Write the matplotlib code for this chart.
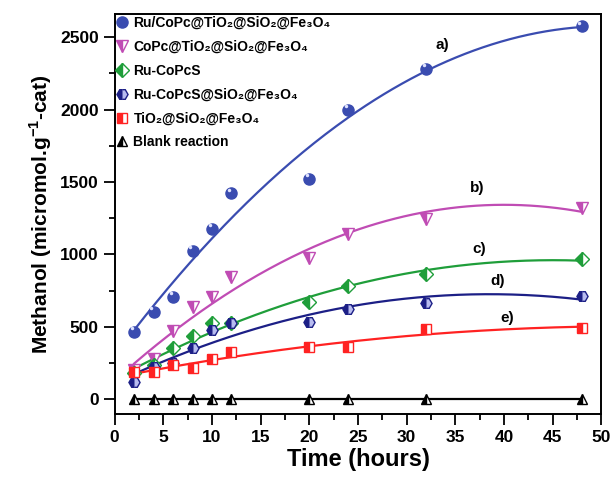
import numpy as np
import matplotlib
matplotlib.use("Agg")
import matplotlib.pyplot as plt
from matplotlib.ticker import MultipleLocator

plt.rcParams['font.family'] = ['Liberation Sans', 'DejaVu Sans']

time = [2, 4, 6, 8, 10, 12, 20, 24, 32, 48]
ru_copc_tio2 = [467, 605, 709, 1026, 1176, 1422, 1521, 1998, 2280, 2575]
copc_tio2 = [202, 276, 472, 640, 709, 842, 974, 1142, 1243, 1320]
ru_copcs = [184, 237, 352, 439, 529, 529, 674, 782, 865, 970]
ru_copcs_sio2 = [122, 221, 249, 352, 479, 529, 536, 621, 663, 712]
tio2_sio2 = [191, 186, 237, 214, 276, 329, 359, 359, 483, 495]
blank = [0, 0, 0, 0, 0, 0, 0, 0, 0, 0]

labels = ["Ru/CoPc@TiO₂@SiO₂@Fe₃O₄", "CoPc@TiO₂@SiO₂@Fe₃O₄", "Ru-CoPcS",
          "Ru-CoPcS@SiO₂@Fe₃O₄", "TiO₂@SiO₂@Fe₃O₄", "Blank reaction"]
curve_labels = ["a)", "b)", "c)", "d)", "e)"]
curve_label_pos = [(33.7, 2447), (37.2, 1457), (37.4, 1038), (39.3, 817), (40.3, 563)]

series = [ru_copc_tio2, copc_tio2, ru_copcs, ru_copcs_sio2, tio2_sio2, blank]
colors = ["#3a4cb0", "#c04cb4", "#1f9e3a", "#1c1f86", "#ff2222", "#000000"]
alt_colors = ["#3a4cb0", "#ffffff", "#ffffff", "#b8bcf0", "#ffffff", "#ffffff"]
markers = ["o", "v", "D", "H", "s", "^"]
fills = ["full", "left", "left", "left", "left", "left"]
msizes = [8, 8, 7, 8, 7, 7]

fig = plt.figure(figsize=(6.13, 4.79), dpi=100)
ax = fig.add_axes([0.187, 0.136, 0.794, 0.835])

t = np.array(time, dtype=float)
tt = np.linspace(2, 48, 200)
for i, ys in enumerate(series):
    ys = np.array(ys, dtype=float)
    if i < 5:
        p = np.polyfit(t, ys, 2)
        ax.plot(tt, np.polyval(p, tt), color=colors[i], lw=1.6, zorder=2)
    else:
        ax.plot(t, ys, color=colors[i], lw=1.6, zorder=2)
    ax.plot(t, ys, linestyle='none', marker=markers[i], ms=msizes[i],
            fillstyle=fills[i], markerfacecolor=colors[i],
            markerfacecoloralt=alt_colors[i], markeredgecolor=colors[i],
            markeredgewidth=1.0, label=labels[i], zorder=3)
    if i == 0:
        ax.plot(t - 0.25, ys + 25, linestyle='none', marker='o', ms=2.5,
                markerfacecolor='#dfe3ff', markeredgecolor='none', zorder=4)

for lab, (x, y) in zip(curve_labels, curve_label_pos):
    ax.text(x, y, lab, fontsize=11, fontweight='bold', ha='center', va='center')

ax.set_xlim(0, 50)
ax.set_ylim(-100, 2660)
ax.xaxis.set_major_locator(MultipleLocator(5))
ax.xaxis.set_minor_locator(MultipleLocator(2.5))
ax.yaxis.set_major_locator(MultipleLocator(500))
ax.yaxis.set_minor_locator(MultipleLocator(250))
ax.tick_params(which='major', direction='out', length=8, width=1.3, labelsize=12.5)
ax.tick_params(which='minor', direction='out', length=4.5, width=1.3)
for lab in ax.get_xticklabels() + ax.get_yticklabels():
    lab.set_fontweight('bold')
for s in ax.spines.values():
    s.set_linewidth(1.4)

ax.set_xlabel("Time (hours)", fontsize=17, fontweight='bold', labelpad=2)
ax.set_ylabel("Methanol (micromol.g$^{\\mathregular{-1}}$-cat)", fontsize=15, fontweight='bold', labelpad=4)

leg = ax.legend(loc='upper left', frameon=False, handletextpad=0.4,
                handlelength=0.8, labelspacing=0.71, borderaxespad=0.0,
                borderpad=0.15, prop={'weight': 'bold', 'size': 10})

fig.savefig("out.png", dpi=100)
